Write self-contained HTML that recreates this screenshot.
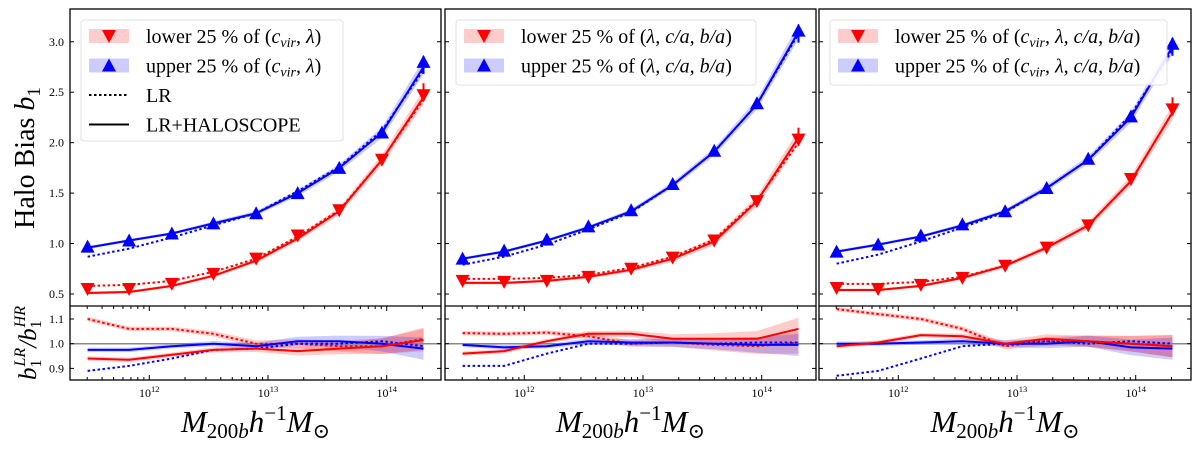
<!DOCTYPE html>
<html><head><meta charset="utf-8"><style>
body{margin:0;background:#fff;width:1200px;height:445px;overflow:hidden}
svg text{font-family:"Liberation Serif","DejaVu Serif",serif}
</style></head><body>
<svg id="fig" width="1200" height="445" xmlns="http://www.w3.org/2000/svg"></svg>
<script>
const logMass=[11.48,11.83,12.19,12.54,12.90,13.25,13.60,13.96,14.31];
// panel 1
const p1BlueSolid=[0.96,1.03,1.10,1.20,1.30,1.50,1.75,2.10,2.75];
const p1BlueDot=[0.87,0.95,1.06,1.18,1.30,1.52,1.76,2.12,2.72];
const p1RedSolid=[0.51,0.52,0.58,0.68,0.83,1.05,1.32,1.83,2.45];
const p1RedDot=[0.58,0.59,0.63,0.72,0.85,1.07,1.33,1.83,2.43];
const p1RedMark=[0.55,0.55,0.60,0.70,0.85,1.08,1.33,1.83,2.47];
const p1BlueMark=[0.97,1.03,1.10,1.20,1.30,1.50,1.75,2.10,2.80];
const p1RRedDot=[1.10,1.06,1.06,1.04,1.0,1.0,0.99,0.99,1.02];
const p1RRedSolid=[0.94,0.935,0.955,0.975,0.98,0.97,0.98,0.99,1.015];
const p1RBlueSolid=[0.975,0.975,0.99,1.0,0.99,1.01,1.01,1.0,0.98];
const p1RBlueDot=[0.89,0.91,0.94,0.975,0.98,1.0,1.0,1.01,0.99];
// panel 2
const p2BlueSolid=[0.85,0.92,1.03,1.16,1.32,1.58,1.91,2.38,3.10];
const p2BlueDot=[0.79,0.87,0.99,1.14,1.31,1.58,1.91,2.38,3.08];
const p2RedSolid=[0.61,0.61,0.63,0.67,0.74,0.85,1.02,1.42,2.05];
const p2RedDot=[0.65,0.65,0.66,0.69,0.76,0.87,1.04,1.43,2.00];
const p2RedMark=[0.63,0.62,0.63,0.67,0.75,0.86,1.03,1.42,2.03];
const p2BlueMark=[0.85,0.93,1.04,1.17,1.33,1.59,1.92,2.39,3.11];
const p2RRedDot=[1.043,1.04,1.045,1.03,1.0,1.005,0.995,0.99,1.005];
const p2RRedSolid=[0.96,0.97,1.01,1.04,1.04,1.02,1.02,1.02,1.06];
const p2RBlueSolid=[0.995,0.985,0.99,1.01,1.005,1.005,1.0,0.995,0.995];
const p2RBlueDot=[0.91,0.91,0.96,1.0,1.0,1.005,1.0,1.005,1.005];
// panel 3
const p3BlueSolid=[0.92,0.99,1.07,1.18,1.32,1.55,1.83,2.25,2.95];
const p3BlueDot=[0.80,0.89,1.02,1.16,1.31,1.55,1.83,2.28,2.92];
const p3RedSolid=[0.54,0.54,0.58,0.66,0.78,0.96,1.18,1.62,2.30];
const p3RedDot=[0.60,0.60,0.62,0.67,0.78,0.96,1.18,1.62,2.30];
const p3RedMark=[0.56,0.55,0.59,0.66,0.78,0.96,1.18,1.64,2.33];
const p3BlueMark=[0.92,0.99,1.08,1.19,1.32,1.55,1.84,2.26,2.98];
const p3RRedDot=[1.14,1.12,1.10,1.06,0.99,1.01,1.01,1.0,0.99];
const p3RRedSolid=[0.99,1.005,1.035,1.03,1.0,1.02,1.01,1.0,0.99];
const p3RBlueSolid=[1.0,1.0,1.005,1.01,1.0,1.0,1.01,0.985,0.98];
const p3RBlueDot=[0.87,0.89,0.94,0.99,1.0,1.01,1.0,1.01,1.0];
const bandWidth=[0.01,0.01,0.01,0.012,0.015,0.02,0.025,0.035,0.05];
const biasTicks=[0.5,1.0,1.5,2.0,2.5,3.0];
const ratioTicks=[0.9,1.0,1.1];
const xDecades=[12,13,14];

const NS="http://www.w3.org/2000/svg";
const svg=document.getElementById('fig');
function mk(tag,attrs,parent){const e=document.createElementNS(NS,tag);for(const k in attrs)e.setAttribute(k,attrs[k]);(parent||svg).appendChild(e);return e;}

const panels=[
 {L:70,R:441,d:[p1BlueSolid,p1BlueDot,p1RedSolid,p1RedDot,p1RedMark,p1BlueMark,p1RRedDot,p1RRedSolid,p1RBlueSolid,p1RBlueDot],lw:262,lh:121},
 {L:445,R:816,d:[p2BlueSolid,p2BlueDot,p2RedSolid,p2RedDot,p2RedMark,p2BlueMark,p2RRedDot,p2RRedSolid,p2RBlueSolid,p2RBlueDot],lw:300,lh:65},
 {L:819,R:1191,d:[p3BlueSolid,p3BlueDot,p3RedSolid,p3RedDot,p3RedMark,p3BlueMark,p3RRedDot,p3RRedSolid,p3RBlueSolid,p3RBlueDot],lw:337,lh:65}
];
const TOP=9,MID=306,BOT=380;
panels.forEach((P,pi)=>{
 const g=mk('g',{});
 
 
 const xs=v=>P.L+79.3+(v-12.0)*118.7;
 const yb=v=>294-(v-0.5)*100.9;
 const yr=v=>343.7-(v-1.0)*247;
 const clipT='ct'+pi, clipB='cb'+pi;
 const defs=mk('defs',{},g);
 const c1=mk('clipPath',{id:clipT},defs);mk('rect',{x:P.L,y:TOP,width:P.R-P.L,height:MID-TOP},c1);
 const c2=mk('clipPath',{id:clipB},defs);mk('rect',{x:P.L,y:MID,width:P.R-P.L,height:BOT-MID},c2);
 const [bs,bd,rs,rd,rm,bm,rrd,rrs,rbs,rbd]=P.d;
 const pts=(arr,ys)=>arr.map((v,i)=>xs(logMass[i]).toFixed(1)+','+ys(v).toFixed(1)).join(' ');
 const band=(arr,ys,w,col,name,clip)=>{const up=arr.map((v,i)=>xs(logMass[i])+','+ys(v+w[i]));const dn=arr.map((v,i)=>xs(logMass[i])+','+ys(v-w[i])).reverse();
   const e=mk('polygon',{points:up.concat(dn).join(' '),fill:col,opacity:0.2,'clip-path':'url(#'+clip+')'},g);
   };
 const line=(arr,ys,col,dash,name,clip)=>{const e=mk('polyline',{points:pts(arr,ys),fill:'none',stroke:col,'stroke-width':2,'stroke-dasharray':dash?'2.5,2.5':'none','clip-path':'url(#'+clip+')'},g);
   };
 band(rs,yb,bandWidth.map(w=>w*1.5),'#ff0000','red-band',clipT);
 band(bs,yb,bandWidth.map(w=>w*1.5),'#0000ff','blue-band',clipT);
 line(bd,yb,'#0000ff',true,'blue-lr-line',clipT);
 line(rd,yb,'#ff0000',true,'red-lr-line',clipT);
 line(bs,yb,'#0000ff',false,'blue-haloscope-line',clipT);
 line(rs,yb,'#ff0000',false,'red-haloscope-line',clipT);
 rm.forEach((v,i)=>{const x=xs(logMass[i]),y=yb(v);
   if(i==8){mk('line',{x1:x,x2:x,y1:y-12,y2:y+6,stroke:'#f00','stroke-width':2},g);}
   const e=mk('polygon',{points:`${x-7},${y-6} ${x+7},${y-6} ${x},${y+7}`,fill:'#f00'},g);
   });
 bm.forEach((v,i)=>{const x=xs(logMass[i]),y=yb(v);
   if(i==8){mk('line',{x1:x,x2:x,y1:y-6,y2:y+12,stroke:'#00f','stroke-width':2},g);}
   const e=mk('polygon',{points:`${x-7},${y+6} ${x+7},${y+6} ${x},${y-7}`,fill:'#00f'},g);
   });
 const rw=bandWidth.map(w=>w*0.9);
 band(rrs,yr,rw,'#ff0000','red-ratio-band',clipB);
 band(rrd,yr,rw,'#ff0000','red-ratio-band-lr',clipB);
 band(rbs,yr,rw,'#0000ff','blue-ratio-band',clipB);
 mk('line',{x1:P.L,x2:P.R,y1:yr(1),y2:yr(1),stroke:'#888','stroke-width':1.5},g);
 line(rrd,yr,'#ff0000',true,'red-ratio-lr',clipB);
 line(rbd,yr,'#0000ff',true,'blue-ratio-lr',clipB);
 line(rbs,yr,'#0000ff',false,'blue-ratio-haloscope',clipB);
 line(rrs,yr,'#ff0000',false,'red-ratio-haloscope',clipB);
 mk('rect',{x:P.L,y:TOP,width:P.R-P.L,height:BOT-TOP,fill:'none',stroke:'#000','stroke-width':1.3},g);
 mk('line',{x1:P.L,x2:P.R,y1:MID,y2:MID,stroke:'#000','stroke-width':1.3},g);
 biasTicks.forEach(t=>{const y=yb(t);mk('line',{x1:P.L,x2:P.L+4,y1:y,y2:y,stroke:'#000'},g);mk('line',{x1:P.R-4,x2:P.R,y1:y,y2:y,stroke:'#000'},g);
   if(pi==0){const e=mk('text',{x:P.L-6,y:y+4,'text-anchor':'end','font-size':12},g);e.textContent=t.toFixed(1);
   }});
 ratioTicks.forEach(t=>{const y=yr(t);mk('line',{x1:P.L,x2:P.L+4,y1:y,y2:y,stroke:'#000'},g);mk('line',{x1:P.R-4,x2:P.R,y1:y,y2:y,stroke:'#000'},g);
   if(pi==0){const e=mk('text',{x:P.L-6,y:y+4,'text-anchor':'end','font-size':12},g);e.textContent=t.toFixed(1);
   }});
 for(let d=11;d<=14;d++){for(let m=1;m<10;m++){const lv=d+Math.log10(m);const x=xs(lv);if(x<P.L||x>P.R)continue;const len=m==1?5:3;
   mk('line',{x1:x,x2:x,y1:BOT-len,y2:BOT,stroke:'#000'},g);mk('line',{x1:x,x2:x,y1:MID,y2:MID+len,stroke:'#000'},g);}}
 xDecades.forEach(d=>{const e=mk('text',{x:xs(d),y:BOT+17,'text-anchor':'middle','font-size':12},g);
   e.innerHTML='10<tspan dy="-5" font-size="8.5">'+d+'</tspan>';
   });
 const xl=mk('text',{x:(P.L+P.R)/2,y:432,'text-anchor':'middle','font-size':31,'font-style':'italic'},g);
 xl.innerHTML='M<tspan dy="6" font-size="21" font-style="normal">200</tspan><tspan font-size="21">b</tspan><tspan dy="-6">h</tspan><tspan dy="-12" font-size="21" font-style="normal">−1</tspan><tspan dy="12">M</tspan><tspan dy="6" font-size="21" font-style="normal">⊙</tspan>';
 
 const lx=P.L+11,ly=20;
 const lg=mk('g',{},g);
 mk('rect',{x:lx,y:ly,width:P.lw,height:P.lh,rx:3,fill:'#fff',stroke:'#ddd','stroke-width':1,opacity:0.9},lg);
 const ent=(i,kind,label)=>{const cy=ly+16+i*29.5;const gx=lx+8;
   const e=mk('g',{},lg);
   if(kind=='red'||kind=='blue'){const c=kind=='red'?'#f00':'#00f';mk('rect',{x:gx,y:cy-7,width:40,height:14,fill:c,opacity:0.2},e);
     const mx=gx+20;mk('polygon',{points:kind=='red'?`${mx-7},${cy-6} ${mx+7},${cy-6} ${mx},${cy+7}`:`${mx-7},${cy+6} ${mx+7},${cy+6} ${mx},${cy-7}`,fill:c},e);}
   else mk('line',{x1:gx,x2:gx+40,y1:cy,y2:cy,stroke:'#000','stroke-width':2,'stroke-dasharray':kind=='dot'?'2.5,2.5':'none'},e);
   const t=mk('text',{x:gx+57,y:cy+7,'font-size':20},e);t.innerHTML=label;};
 const cv='<tspan font-style="italic">c</tspan><tspan dy="4" font-size="14" font-style="italic">vir</tspan><tspan dy="-4">, </tspan>';
 let inner;
 if(pi==0) inner='('+cv+'<tspan font-style="italic">λ</tspan>)';
 else if(pi==1) inner='(<tspan font-style="italic">λ, c/a, b/a</tspan>)';
 else inner='('+cv+'<tspan font-style="italic">λ, c/a, b/a</tspan>)';
 ent(0,'red','lower 25 % of '+inner);
 ent(1,'blue','upper 25 % of '+inner);
 if(pi==0){ent(2,'dot','LR');ent(3,'solid','LR+HALOSCOPE');}
});
const yl=mk('text',{transform:'translate(34,158) rotate(-90)','text-anchor':'middle','font-size':28});
yl.innerHTML='Halo Bias <tspan font-style="italic">b</tspan><tspan dy="6" font-size="19">1</tspan>';

const yl2=mk('text',{transform:'translate(36,343) rotate(-90)','text-anchor':'middle','font-size':25,'font-style':'italic'});
yl2.innerHTML='b<tspan dy="5" font-size="16" font-style="normal">1</tspan><tspan dy="-16" dx="-7" font-size="16">LR</tspan><tspan dy="11">/b</tspan><tspan dy="5" font-size="16" font-style="normal">1</tspan><tspan dy="-16" dx="-7" font-size="16">HR</tspan>';

</script>
</body></html>
